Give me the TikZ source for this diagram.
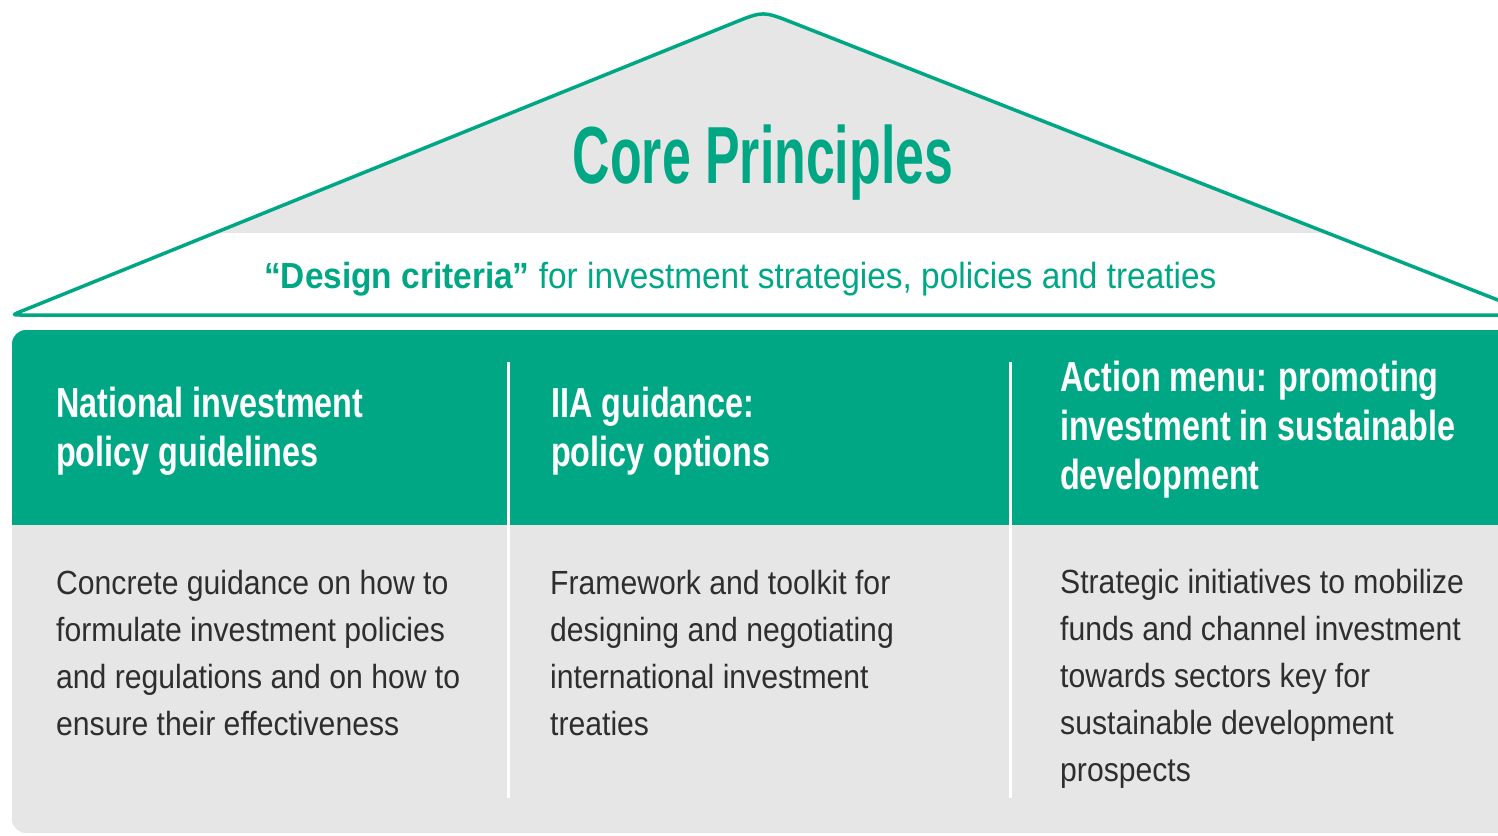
\documentclass[tikz,border=0pt]{standalone}
\usepackage{fontspec}
\setmainfont{Liberation Sans}
\newfontfamily\bodyfont[FakeStretch=0.9]{Liberation Sans}
\newfontfamily\headfont[FakeStretch=0.77]{Liberation Sans}
\newfontfamily\titlefont[FakeStretch=0.64]{Liberation Sans}
\newfontfamily\critfont[FakeStretch=0.92]{Liberation Sans}
\usetikzlibrary{calc}
\definecolor{ugreen}{HTML}{00A784}
\definecolor{ugray}{HTML}{E6E6E6}
\definecolor{utext}{HTML}{2E2E2E}
\begin{document}
\begin{tikzpicture}[x=1pt,y=-1pt,
  headtxt/.style={anchor=base west, inner sep=0pt, text=white, font=\headfont\bfseries\fontsize{42}{49}\selectfont},
  bodytxt/.style={anchor=base west, inner sep=0pt, text=utext, font=\bodyfont\fontsize{33.5}{47}\selectfont},
  titletxt/.style={anchor=base, inner sep=0pt, text=ugreen, font=\titlefont\bfseries\fontsize{81}{81}\selectfont},
  crittxt/.style={anchor=base west, inner sep=0pt, text=ugreen, font=\critfont\fontsize{36.3}{40}\selectfont},
  divider/.style={white, line width=3pt},
  roofline/.style={ugreen, line width=3.5pt, line join=round}]
\useasboundingbox (0,0) rectangle (1498,835);
\clip (0,0) rectangle (1498,835);
% roof geometry
\coordinate (rl) at (12,315);
\coordinate (ra) at (763,11);
\coordinate (rr) at (1536,315);
\coordinate (ra1) at ($(ra)!32pt!(rl)$);
\coordinate (ra2) at ($(ra)!32pt!(rr)$);
\coordinate (rl1) at ($(rl)!10pt!(ra)$);
\coordinate (rl2) at ($(rl)!10pt!(rr)$);
\def\roofshape{(ra1) .. controls (ra) .. (ra2) -- (rr) -- (rl2) .. controls (rl) .. (rl1) -- cycle}
\fill[white] \roofshape;
\begin{scope}
  \clip (0,0) rectangle (1600,232);
  \fill[ugray] \roofshape;
\end{scope}
\draw[roofline] \roofshape;
% body
\fill[ugray, rounded corners=14pt] (12,330) rectangle (1560,833);
\fill[ugreen, rounded corners=14pt] (12,330) rectangle (1560,560);
\fill[ugray] (12,525) rectangle (1560,700);
% dividers
\coordinate (d1t) at (508,362); \coordinate (d1b) at (508,798);
\coordinate (d2t) at (1010,362); \coordinate (d2b) at (1010,798);
\draw[divider] (d1t) -- (d1b);
\draw[divider] (d2t) -- (d2b);
% texts
\node[titletxt] (title) at (763,183) {Core Principles};
\node[crittxt] (crit) at (264,288) {{\bfseries “Design criteria”} for investment strategies, policies and treaties};
\node[headtxt] (h1) at (56,417) {\parbox[t]{440pt}{National investment\\policy guidelines}};
\node[headtxt] (h2) at (551,417) {\parbox[t]{440pt}{IIA guidance:\\policy options}};
\node[headtxt] (h3) at (1060,391) {\parbox[t]{440pt}{Action menu: promoting\\investment in sustainable\\development}};
\node[bodytxt] (b1) at (56,594) {\parbox[t]{440pt}{Concrete guidance on how to\\formulate investment policies\\and regulations and on how to\\ensure their effectiveness}};
\node[bodytxt] (b2) at (550,594) {\parbox[t]{440pt}{Framework and toolkit for\\designing and negotiating\\international investment\\treaties}};
\node[bodytxt] (b3) at (1060,593) {\parbox[t]{440pt}{Strategic initiatives to mobilize\\funds and channel investment\\towards sectors key for\\sustainable development\\prospects}};
\end{tikzpicture}
\end{document}
